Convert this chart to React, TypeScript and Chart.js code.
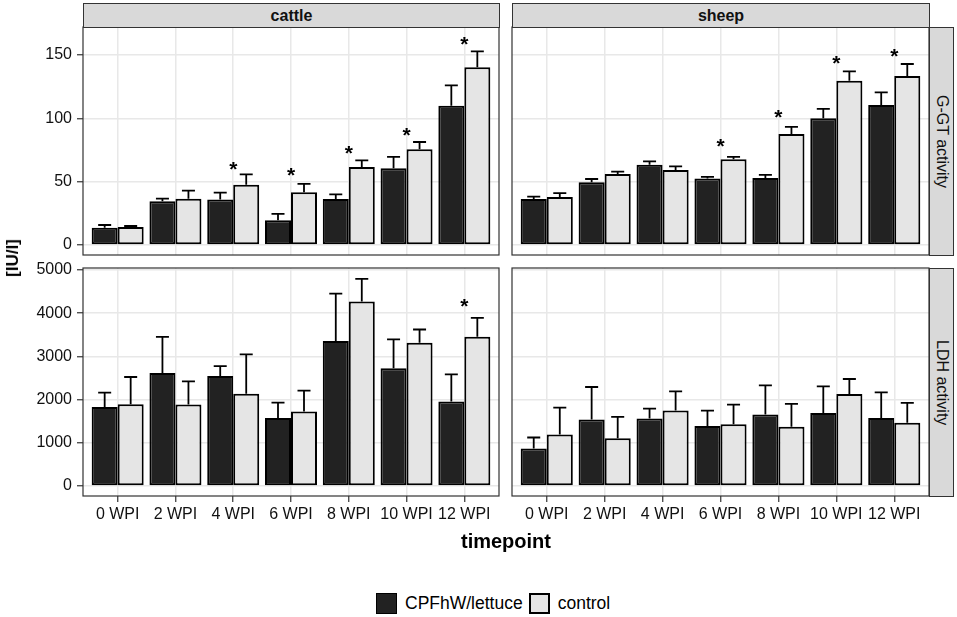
import { useEffect, useRef } from "react";
import { Chart, registerables } from "chart.js";

Chart.register(...registerables);

const FONT = '"Liberation Sans", Arial, sans-serif';

const timepoints = ["0 WPI", "2 WPI", "4 WPI", "6 WPI", "8 WPI", "10 WPI", "12 WPI"];
const ggtTicks = [0, 50, 100, 150];
const ldhTicks = [0, 1000, 2000, 3000, 4000, 5000];

// cattle, G-GT
const cattleGgtCpf = [13.7, 34.5, 36.0, 19.5, 36.3, 60.5, 110.0];
const cattleGgtCpfErr = [15.8, 36.6, 41.3, 24.5, 40.0, 69.5, 126.0];
const cattleGgtCtrl = [14.2, 36.6, 47.6, 41.6, 61.6, 75.5, 140.3];
const cattleGgtCtrlErr = [15.0, 42.9, 55.8, 48.2, 66.8, 81.3, 152.9];
const cattleGgtStars = [null, null, 64.5, 59.7, 76.8, 90.8, 162.9];

// sheep, G-GT
const sheepGgtCpf = [36.3, 49.5, 63.4, 52.4, 52.9, 100.0, 110.5];
const sheepGgtCpfErr = [38.2, 52.1, 66.0, 53.7, 55.3, 107.4, 120.5];
const sheepGgtCtrl = [37.9, 56.0, 59.2, 67.6, 87.6, 129.7, 133.4];
const sheepGgtCtrlErr = [41.0, 57.9, 62.1, 69.5, 93.2, 137.1, 142.9];
const sheepGgtStars = [null, null, null, 82.0, 105.0, 148.2, 153.4];

// cattle, LDH
const cattleLdhCpf = [1831, 2615, 2546, 1577, 3354, 2723, 1954];
const cattleLdhCpfErr = [2162, 3454, 2777, 1931, 4454, 3392, 2585];
const cattleLdhCtrl = [1892, 1885, 2138, 1723, 4269, 3315, 3454];
const cattleLdhCtrlErr = [2523, 2423, 3046, 2208, 4792, 3623, 3892];
const cattleLdhStars = [null, null, null, null, null, null, 4292];

// sheep, LDH
const sheepLdhCpf = [869, 1538, 1562, 1392, 1654, 1692, 1577];
const sheepLdhCpfErr = [1123, 2292, 1792, 1746, 2331, 2308, 2169];
const sheepLdhCtrl = [1192, 1108, 1746, 1431, 1369, 2131, 1462];
const sheepLdhCtrlErr = [1815, 1600, 2192, 1885, 1900, 2477, 1923];
const sheepLdhStars = [null, null, null, null, null, null, null];

const CPF_FILL = "#222222";
const CTRL_FILL = "#e5e5e5";

type PanelProps = {
  cpf: number[];
  cpfErr: number[];
  ctrl: number[];
  ctrlErr: number[];
  stars: (number | null)[];
  ticks: number[];
  yMin: number;
  yMax: number;
  showY: boolean;
  showX: boolean;
  left: number;
  top: number;
  width: number;
  height: number;
};

function Panel(props: PanelProps) {
  const canvasRef = useRef<HTMLCanvasElement | null>(null);

  useEffect(() => {
    if (!canvasRef.current) return;
    const { cpf, cpfErr, ctrl, ctrlErr, stars, ticks, yMin, yMax, showY, showX } = props;

    const decor = {
      id: "decor",
      afterDatasetsDraw(chart: any) {
        const { ctx, chartArea, scales } = chart;
        const ys = scales.y;
        const xs = scales.x;
        const uppers = [cpfErr, ctrlErr];
        ctx.save();
        ctx.strokeStyle = "#000";
        ctx.lineWidth = 1.8;
        chart.data.datasets.forEach((_ds: any, di: number) => {
          const meta = chart.getDatasetMeta(di);
          meta.data.forEach((bar: any, i: number) => {
            const p = bar.getProps(["x", "y", "width"], true);
            const ey = ys.getPixelForValue(uppers[di][i]);
            const half = p.width / 4;
            ctx.beginPath();
            ctx.moveTo(p.x, p.y);
            ctx.lineTo(p.x, ey);
            ctx.moveTo(p.x - half, ey);
            ctx.lineTo(p.x + half, ey);
            ctx.stroke();
          });
        });
        ctx.fillStyle = "#000";
        ctx.font = `bold 21px ${FONT}`;
        ctx.textAlign = "center";
        ctx.textBaseline = "alphabetic";
        stars.forEach((s, i) => {
          if (s == null) return;
          ctx.fillText("*", xs.getPixelForValue(i), ys.getPixelForValue(s) + 12.3);
        });
        ctx.strokeStyle = "#333";
        ctx.lineWidth = 1.2;
        ctx.strokeRect(
          chartArea.left,
          chartArea.top,
          chartArea.right - chartArea.left,
          chartArea.bottom - chartArea.top
        );
        ctx.restore();
      },
    };

    const chart = new Chart(canvasRef.current, {
      type: "bar",
      data: {
        datasets: [
          {
            label: "CPFhW/lettuce",
            data: cpf.map((v, i) => ({ x: i, y: v })),
            backgroundColor: CPF_FILL,
            borderColor: "#000",
            borderWidth: 2,
            borderSkipped: false,
            barPercentage: 1,
            categoryPercentage: 0.9,
          },
          {
            label: "control",
            data: ctrl.map((v, i) => ({ x: i, y: v })),
            backgroundColor: CTRL_FILL,
            borderColor: "#000",
            borderWidth: 2,
            borderSkipped: false,
            barPercentage: 1,
            categoryPercentage: 0.9,
          },
        ],
      } as any,
      options: {
        animation: false,
        responsive: true,
        maintainAspectRatio: false,
        layout: {
          padding: { left: showY ? 0 : 4, right: 4, top: 8, bottom: showX ? 0 : 4 },
        },
        plugins: {
          legend: { display: false },
          tooltip: { enabled: false },
        },
        scales: {
          x: {
            type: "linear",
            min: -0.6,
            max: 6.6,
            offset: false,
            afterBuildTicks: (axis: any) => {
              axis.ticks = timepoints.map((_, i) => ({ value: i }));
            },
            afterFit: (axis: any) => {
              axis.height = showX ? 36 : 0;
              axis.paddingLeft = 0;
              axis.paddingRight = 0;
              axis.paddingTop = 0;
              axis.paddingBottom = 0;
            },
            grid: {
              offset: false,
              color: "#e8e8e8",
              lineWidth: 1.5,
              drawTicks: showX,
              tickLength: 6,
              tickColor: "#333",
              tickWidth: 1.2,
            },
            border: { display: false },
            ticks: {
              display: showX,
              autoSkip: false,
              maxRotation: 0,
              padding: 3,
              color: "#111",
              font: { family: FONT, size: 16 },
              callback: (v: any) => timepoints[v as number],
            },
          },
          y: {
            type: "linear",
            min: yMin,
            max: yMax,
            afterBuildTicks: (axis: any) => {
              axis.ticks = ticks.map((v) => ({ value: v }));
            },
            afterFit: (axis: any) => {
              axis.width = showY ? 63 : 0;
              axis.paddingLeft = 0;
              axis.paddingRight = 0;
              axis.paddingTop = 0;
              axis.paddingBottom = 0;
            },
            grid: {
              color: "#e8e8e8",
              lineWidth: 1.5,
              drawTicks: showY,
              tickLength: 6,
              tickColor: "#333",
              tickWidth: 1.2,
            },
            border: { display: false },
            ticks: {
              display: showY,
              padding: 5,
              color: "#111",
              font: { family: FONT, size: 16 },
              callback: (v: any) => String(v),
            },
          },
        },
      } as any,
      plugins: [decor],
    });

    return () => {
      chart.destroy();
    };
  }, [props]);

  return (
    <div
      style={{
        position: "absolute",
        left: props.left,
        top: props.top,
        width: props.width,
        height: props.height,
      }}
    >
      <canvas ref={canvasRef}></canvas>
    </div>
  );
}

const stripBase = {
  position: "absolute" as const,
  background: "#d9d9d9",
  border: "1px solid #333",
  boxSizing: "border-box" as const,
  display: "flex",
  alignItems: "center",
  justifyContent: "center",
  color: "#111",
  fontFamily: FONT,
  fontSize: 16,
};

export default function App() {
  return (
    <div
      style={{
        position: "absolute",
        left: 0,
        top: 0,
        width: 957,
        height: 617,
        background: "#fff",
        fontFamily: FONT,
      }}
    >
      <Panel
        cpf={cattleGgtCpf}
        cpfErr={cattleGgtCpfErr}
        ctrl={cattleGgtCtrl}
        ctrlErr={cattleGgtCtrlErr}
        stars={cattleGgtStars}
        ticks={ggtTicks}
        yMin={-7.9}
        yMax={172.1}
        showY={true}
        showX={false}
        left={20}
        top={19}
        width={483}
        height={240}
      />
      <Panel
        cpf={sheepGgtCpf}
        cpfErr={sheepGgtCpfErr}
        ctrl={sheepGgtCtrl}
        ctrlErr={sheepGgtCtrlErr}
        stars={sheepGgtStars}
        ticks={ggtTicks}
        yMin={-7.9}
        yMax={172.1}
        showY={false}
        showX={false}
        left={508}
        top={19}
        width={425}
        height={240}
      />
      <Panel
        cpf={cattleLdhCpf}
        cpfErr={cattleLdhCpfErr}
        ctrl={cattleLdhCtrl}
        ctrlErr={cattleLdhCtrlErr}
        stars={cattleLdhStars}
        ticks={ldhTicks}
        yMin={-231}
        yMax={5046}
        showY={true}
        showX={true}
        left={20}
        top={260}
        width={483}
        height={272}
      />
      <Panel
        cpf={sheepLdhCpf}
        cpfErr={sheepLdhCpfErr}
        ctrl={sheepLdhCtrl}
        ctrlErr={sheepLdhCtrlErr}
        stars={sheepLdhStars}
        ticks={ldhTicks}
        yMin={-231}
        yMax={5046}
        showY={false}
        showX={true}
        left={508}
        top={260}
        width={425}
        height={272}
      />

      <div style={{ ...stripBase, left: 83, top: 3, width: 417, height: 25, fontWeight: "bold" }}>cattle</div>
      <div style={{ ...stripBase, left: 512, top: 3, width: 418, height: 25, fontWeight: "bold" }}>sheep</div>
      <div style={{ ...stripBase, left: 929, top: 27, width: 25, height: 229, writingMode: "vertical-rl" }}>
        G-GT activity
      </div>
      <div style={{ ...stripBase, left: 929, top: 268, width: 25, height: 229, writingMode: "vertical-rl" }}>
        LDH activity
      </div>

      <div
        style={{
          position: "absolute",
          left: 13,
          top: 258,
          transform: "translate(-50%, -50%) rotate(-90deg)",
          fontWeight: "bold",
          fontSize: 17,
          color: "#000",
          whiteSpace: "nowrap",
        }}
      >
        [IU/l]
      </div>
      <div
        style={{
          position: "absolute",
          left: 506,
          top: 541,
          transform: "translate(-50%, -50%)",
          fontWeight: "bold",
          fontSize: 20,
          color: "#000",
          whiteSpace: "nowrap",
        }}
      >
        timepoint
      </div>

      <div
        style={{
          position: "absolute",
          left: 376,
          top: 593,
          height: 21,
          display: "flex",
          alignItems: "center",
          fontSize: 17.5,
          color: "#000",
          whiteSpace: "nowrap",
        }}
      >
        <span
          style={{
            display: "inline-block",
            width: 21,
            height: 21,
            boxSizing: "border-box",
            background: CPF_FILL,
            border: "1.5px solid #000",
            marginRight: 8,
          }}
        ></span>
        <span style={{ marginRight: 6 }}>CPFhW/lettuce</span>
        <span
          style={{
            display: "inline-block",
            width: 21,
            height: 21,
            boxSizing: "border-box",
            background: CTRL_FILL,
            border: "2px solid #000",
            marginRight: 8,
          }}
        ></span>
        <span>control</span>
      </div>
    </div>
  );
}
